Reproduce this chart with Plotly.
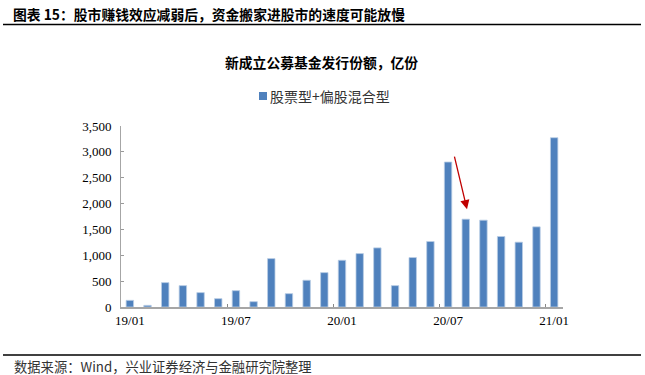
import plotly.graph_objects as go

months = ["19/01","19/02","19/03","19/04","19/05","19/06","19/07","19/08","19/09","19/10","19/11","19/12",
          "20/01","20/02","20/03","20/04","20/05","20/06","20/07","20/08","20/09","20/10","20/11","20/12","21/01"]
values = [129, 32, 471, 413, 278, 161, 316, 103, 936, 258, 517, 665,
          904, 1033, 1143, 413, 956, 1266, 2803, 1698, 1679, 1363, 1253, 1550, 3274]
tick_labels = ["19/01", "19/07", "20/01", "20/07", "21/01"]
series_name = "股票型+偏股混合型"
header = "图表 15：股市赚钱效应减弱后，资金搬家进股市的速度可能放慢"
chart_title = "新成立公募基金发行份额，亿份"
source = "数据来源：Wind，兴业证券经济与金融研究院整理"

W, H = 645, 375
L, R, T, B = 121, 563, 126, 307

def px(x):
    return (x - L) / (R - L)

def py(y):
    return (B - y) / (B - T)

idx = list(range(len(months)))
tickvals = [months.index(t) for t in tick_labels]

fig = go.Figure()
fig.add_trace(go.Bar(
    x=idx, y=values, name=series_name, width=0.42,
    marker=dict(color="#4F81BD", line=dict(color="#B9CDE5", width=0.8)),
    showlegend=False,
))

cjk = "Noto Sans CJK SC"
serif = "Liberation Serif"

fig.update_layout(
    width=W, height=H,
    margin=dict(l=L, r=W - R, t=T, b=H - B),
    paper_bgcolor="white", plot_bgcolor="white",
    bargap=0.5,
    xaxis=dict(
        range=[-0.5, len(months) - 0.5],
        tickvals=tickvals, ticktext=tick_labels,
        ticks="", showgrid=False, zeroline=False,
        showline=True, linecolor="#A6A6A6", linewidth=2,
        tickfont=dict(family=serif, size=13, color="black"),
        minor=dict(tickvals=[v - 0.5 for v in tickvals[1:]], ticks="inside", ticklen=3,
                   tickcolor="#888888", tickwidth=1, showgrid=False),
    ),
    yaxis=dict(
        range=[0, 3500], dtick=500, tickformat=",",
        ticks="inside", ticklen=3, tickcolor="#999999",
        showgrid=False, zeroline=False,
        showline=True, linecolor="#A6A6A6", linewidth=1,
        tickfont=dict(family=serif, size=13, color="black"),
        ticklabelstandoff=6,
    ),
)

# arrow
fig.add_annotation(
    x=19.07, y=1892, ax=18.34, ay=2938, xref="x", yref="y", axref="x", ayref="y",
    text="", showarrow=True, arrowhead=2, arrowsize=1.4, arrowwidth=1.3, arrowcolor="#C00000",
)

# header
fig.add_annotation(x=px(11), y=py(14), xref="paper", yref="paper", xanchor="left", yanchor="middle",
                   text="<b>" + header + "</b>", showarrow=False,
                   font=dict(family=cjk, size=13.8, color="black"))
fig.add_shape(type="line", xref="paper", yref="paper", x0=px(3), x1=px(641), y0=py(24.5), y1=py(24.5),
              line=dict(color="black", width=1.5))

# chart title
fig.add_annotation(x=px(321), y=py(62), xref="paper", yref="paper", xanchor="center", yanchor="middle",
                   text="<b>" + chart_title + "</b>", showarrow=False,
                   font=dict(family=cjk, size=13.8, color="black"))

# legend
fig.add_shape(type="rect", xref="paper", yref="paper", x0=px(259), x1=px(267), y0=py(92), y1=py(100),
              fillcolor="#4F81BD", line=dict(width=0))
fig.add_annotation(x=px(268), y=py(96), xref="paper", yref="paper", xanchor="left", yanchor="middle",
                   text=series_name, showarrow=False,
                   font=dict(family=cjk, size=14, color="#333333"))

# source
fig.add_shape(type="line", xref="paper", yref="paper", x0=px(3), x1=px(641), y0=py(355), y1=py(355),
              line=dict(color="black", width=1.5))
fig.add_annotation(x=px(12), y=py(366), xref="paper", yref="paper", xanchor="left", yanchor="middle",
                   text=source, showarrow=False,
                   font=dict(family=cjk, size=13.3, color="#333333"))

fig.write_html("out.html", config={"displayModeBar": False},
               post_script="document.body.style.margin='0';document.body.style.overflow='hidden';")
